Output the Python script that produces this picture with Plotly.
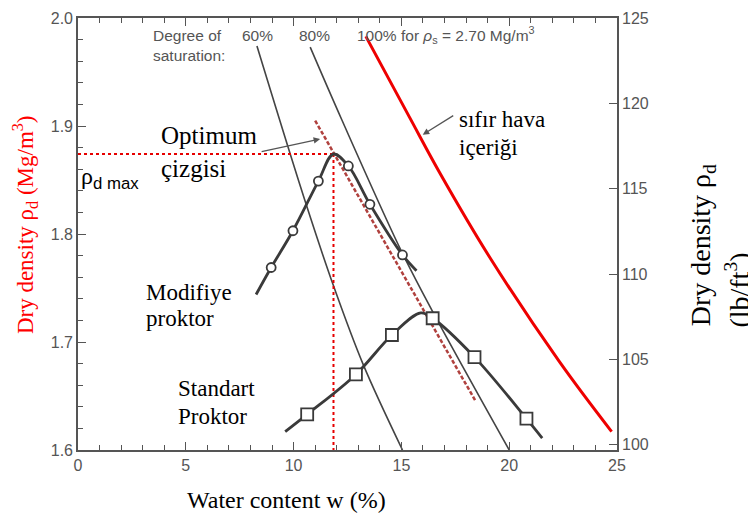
import plotly.graph_objects as go

# ---- data ----
# Modified Proctor (circles)
mod_curve_w   = [8.26, 8.96, 9.97, 11.15, 11.85, 12.54, 13.54, 15.05, 15.7]
mod_curve_rho = [1.744, 1.769, 1.803, 1.849, 1.874, 1.863, 1.8275, 1.7806, 1.766]
mod_pts_w     = [8.96, 9.97, 11.15, 12.54, 13.54, 15.05]
mod_pts_rho   = [1.769, 1.803, 1.849, 1.863, 1.8275, 1.7806]

# Standard Proctor (squares)
std_curve_w   = [9.61, 10.63, 12.89, 14.56, 15.9, 16.45, 18.39, 20.8, 21.53]
std_curve_rho = [1.617, 1.633, 1.670, 1.7065, 1.727, 1.722, 1.686, 1.629, 1.611]
std_pts_w     = [10.63, 12.89, 14.56, 16.45, 18.39, 20.8]
std_pts_rho   = [1.633, 1.670, 1.7065, 1.722, 1.686, 1.629]

# Degree of saturation lines
s60_w   = [8.30, 10.54, 11.85, 13.23, 15.05]
s60_rho = [1.974, 1.830, 1.752, 1.679, 1.600]
s80_w   = [10.77, 12.23, 14.93, 16.4, 20.0]
s80_rho = [1.973, 1.906, 1.787, 1.730, 1.600]
s100_w   = [13.35, 15.38, 16.77, 19.08, 22.32, 24.75]
s100_rho = [1.983, 1.908, 1.857, 1.779, 1.682, 1.617]

# Line of optimums
opt_w   = [11.0, 18.42]
opt_rho = [1.905, 1.646]

# Optimum point
w_opt = 11.85
rho_max = 1.874

x_ticks = [0, 5, 10, 15, 20, 25]
y_ticks = [1.6, 1.7, 1.8, 1.9, 2.0]
y2_ticks = [100, 105, 110, 115, 120, 125]

GRAY = "#3a3a3a"
AX = "#555555"
SERIF = "Liberation Serif, Times New Roman, serif"
SANS = "Liberation Sans, Arial, sans-serif"

fig = go.Figure()

def line(x, y, color, width, dash="solid", shape="spline"):
    fig.add_trace(go.Scatter(x=x, y=y, mode="lines", line=dict(color=color, width=width, dash=dash, shape=shape),
                             hoverinfo="skip", showlegend=False))

line(s60_w, s60_rho, "#444444", 1.6)
line(s80_w, s80_rho, "#444444", 1.6)
line(s100_w, s100_rho, "#ee0000", 3)

# red dotted guides to the optimum
line([0, w_opt], [rho_max, rho_max], "#e60000", 2, "dot", "linear")
line([w_opt, w_opt], [rho_max, 1.6], "#e60000", 2, "dot", "linear")

line(opt_w, opt_rho, "#b0413e", 2.5, "4px,2px", "linear")

line(mod_curve_w, mod_curve_rho, GRAY, 2.8)
line(std_curve_w, std_curve_rho, GRAY, 2.8)

fig.add_trace(go.Scatter(x=mod_pts_w, y=mod_pts_rho, mode="markers",
                         marker=dict(symbol="circle", size=9, color="white", line=dict(color=GRAY, width=1.8)),
                         hoverinfo="skip", showlegend=False))
fig.add_trace(go.Scatter(x=std_pts_w, y=std_pts_rho, mode="markers",
                         marker=dict(symbol="square", size=12, color="white", line=dict(color=GRAY, width=1.8)),
                         hoverinfo="skip", showlegend=False))

# trace to activate the right axis
fig.add_trace(go.Scatter(x=[], y=[], yaxis="y2", mode="lines", hoverinfo="skip", showlegend=False))

ann = []
def txt(x, y, s, size=23, font=SERIF, color="black", xanchor="left", yanchor="middle", xref="x", yref="y", angle=0):
    ann.append(dict(x=x, y=y, text=s, xref=xref, yref=yref, showarrow=False, xanchor=xanchor, yanchor=yanchor,
                    textangle=angle, font=dict(family=font, size=size, color=color)))

txt(3.37, 1.984, "Degree of", 15.5, SANS, "#555")
txt(3.37, 1.965, "saturation:", 15.5, SANS, "#555")
txt(7.53, 1.984, "60%", 15.5, SANS, "#555")
txt(10.17, 1.984, "80%", 15.5, SANS, "#555")
txt(12.85, 1.984, "100% for <i>ρ</i><sub>s</sub> = 2.70 Mg/m<sup>3</sup>", 15.5, SANS, "#555")

txt(3.74, 1.891, "Optimum", 25)
txt(3.74, 1.861, "çizgisi", 25)
txt(0.05, 1.852, "ρ<sub><span style='font-family:Liberation Sans'>d max</span></sub>", 24)
txt(17.56, 1.906, "sıfır hava", 23)
txt(17.56, 1.880, "içeriği", 23)
txt(3.05, 1.746, "Modifiye", 23)
txt(3.05, 1.722, "proktor", 23)
txt(4.53, 1.657, "Standart", 23)
txt(4.53, 1.631, "Proktor", 23)
txt(11.3, 1.581, "W<sub>opt</sub>", 17, SANS, "#d6ccb2")

# axis titles
txt(0.386, -0.116, "Water content w (%)", 24, SERIF, "black", "center", "middle", "paper", "paper")
txt(-0.098, 0.521, "Dry density ρ<sub>d</sub> (Mg/m<sup>3</sup>)", 23, SERIF, "#ff0000", "center", "middle", "paper", "paper", -90)
txt(1.158, 0.282, "Dry density ρ<sub>d</sub>", 28, SERIF, "black", "center", "bottom", "paper", "paper", -90)
txt(1.223, 0.278, "(lb/ft<sup>3</sup>)", 28, SERIF, "black", "center", "bottom", "paper", "paper", -90)

# arrows
ann.append(dict(x=11.23, y=1.888, ax=-60, ay=13, xref="x", yref="y", showarrow=True, arrowhead=2,
                arrowsize=1, arrowwidth=1.3, arrowcolor="#555", text=""))
ann.append(dict(x=15.99, y=1.892, ax=32, ay=-20, xref="x", yref="y", showarrow=True, arrowhead=2,
                arrowsize=1, arrowwidth=1.3, arrowcolor="#555", text=""))

# margins compensate for the page's default 8px body margin
fig.update_layout(
    width=756, height=516,
    margin=dict(l=70, r=147, t=10, b=74),
    paper_bgcolor="white", plot_bgcolor="white",
    annotations=ann,
    xaxis=dict(range=[0, 25], tickvals=x_ticks, ticks="inside", ticklen=8, tickwidth=1.3, tickcolor=AX,
               minor=dict(dtick=1, ticks="inside", ticklen=5, tickcolor=AX, tickwidth=1.2), automargin=False,
               showline=True, linecolor=AX, linewidth=1.6, mirror="ticks", showgrid=False, zeroline=False,
               tickfont=dict(family=SANS, size=16, color="#555")),
    yaxis=dict(range=[1.6, 2.0], tickvals=y_ticks, tickformat=".1f", ticks="inside", ticklen=8, tickwidth=1.3,
               tickcolor=AX, minor=dict(dtick=0.02, ticks="inside", ticklen=5, tickcolor=AX, tickwidth=1.2),
               automargin=False,
               showline=True, linecolor=AX, linewidth=1.6, showgrid=False, zeroline=False,
               tickfont=dict(family=SANS, size=16, color="#555")),
    yaxis2=dict(overlaying="y", side="right", range=[99.7, 125.0], tickvals=y2_ticks, ticks="inside", ticklen=8,
                tickwidth=1.3, tickcolor=AX, showline=True, linecolor=AX, linewidth=1.6, showgrid=False,
                automargin=False,
                zeroline=False, tickfont=dict(family=SANS, size=16, color="#555")),
)

fig.write_html("out.html")
